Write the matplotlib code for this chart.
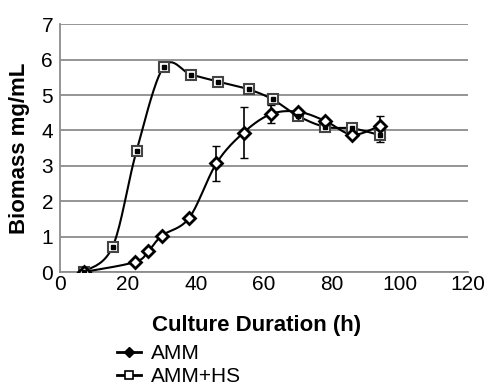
import numpy as np
import matplotlib
matplotlib.use("Agg")
import matplotlib.pyplot as plt
from matplotlib.lines import Line2D

plt.rcParams['font.family'] = ['Liberation Sans', 'DejaVu Sans']

# Data
amm_x = [7, 22, 26, 30, 38, 46, 54, 62, 70, 78, 86, 94]
amm_y = [0.0, 0.28, 0.59, 1.03, 1.53, 3.07, 3.94, 4.46, 4.53, 4.27, 3.88, 4.13]
amm_err = [0, 0, 0, 0, 0, 0.5, 0.71, 0.25, 0, 0, 0, 0.28]

hs_x = [7, 15.5, 22.5, 30.5, 38.5, 46.5, 55.5, 62.5, 70, 78, 86, 94]
hs_y = [0.0, 0.72, 3.42, 5.8, 5.58, 5.38, 5.16, 4.88, 4.41, 4.1, 4.06, 3.87]
hs_err = [0, 0, 0, 0, 0, 0, 0, 0, 0, 0, 0.08, 0.2]

x_ticks = [0, 20, 40, 60, 80, 100, 120]
y_ticks = [0, 1, 2, 3, 4, 5, 6, 7]


def smooth(xs, ys, sx=3.4, sy=35.4, n=20):
    """Excel-like smoothed line (cardinal Bezier) through the given points."""
    P = np.column_stack([np.asarray(xs) * sx, np.asarray(ys) * sy])
    out = []
    m = len(P)
    for i in range(m - 1):
        p0 = P[i - 1] if i > 0 else P[i]
        p1 = P[i]
        p2 = P[i + 1]
        p3 = P[i + 2] if i + 2 < m else P[i + 1]
        c1 = p1 + (p2 - p0) / 6.0
        c2 = p2 - (p3 - p1) / 6.0
        t = np.linspace(0, 1, n)[:, None]
        seg = ((1 - t) ** 3) * p1 + 3 * ((1 - t) ** 2) * t * c1 + 3 * (1 - t) * t ** 2 * c2 + t ** 3 * p2
        out.append(seg if i == 0 else seg[1:])
    Q = np.vstack(out)
    return Q[:, 0] / sx, Q[:, 1] / sy


fig = plt.figure(figsize=(4.95, 3.9), dpi=100)
ax = fig.add_axes([60 / 495, 1 - 272 / 390, (468 - 60) / 495, (272 - 24.3) / 390])

ax.set_xlim(0, 120)
ax.set_ylim(0, 7)
ax.set_xticks(x_ticks)
ax.set_yticks(y_ticks)
ax.yaxis.grid(True, color='#8c8c8c', linewidth=1.3)
ax.set_axisbelow(True)
for s in ['top', 'right']:
    ax.spines[s].set_visible(False)
for s in ['left', 'bottom']:
    ax.spines[s].set_color('#8c8c8c')
    ax.spines[s].set_linewidth(1.3)
ax.tick_params(axis='both', length=0, labelsize=15, pad=2)
ax.tick_params(axis='y', pad=5)

# lines
sx, sy = smooth(hs_x, hs_y)
ax.plot(sx, sy, color='black', lw=1.5, zorder=3)
ax.errorbar(hs_x, hs_y, yerr=hs_err, fmt='none', ecolor='black', elinewidth=1.2, capsize=3, zorder=3)
ax.plot(hs_x, hs_y, ls='none', marker='s', ms=6.5, mfc='white', mec='#444444', mew=1.5, zorder=4)
ax.plot(hs_x, hs_y, ls='none', marker='s', ms=2.5, mfc='black', mec='black', zorder=5)

ax_x, ax_y = smooth(amm_x, amm_y)
ax.plot(ax_x, ax_y, color='black', lw=1.5, zorder=3)
ax.errorbar(amm_x, amm_y, yerr=amm_err, fmt='none', ecolor='black', elinewidth=1.2, capsize=3, zorder=3)
ax.plot(amm_x, amm_y, ls='none', marker='D', ms=6, mfc='white', mec='black', mew=2.0, zorder=4)

ax.set_ylabel('Biomass mg/mL', fontsize=16, fontweight='bold', labelpad=8)
ax.set_xlabel('Culture Duration (h)', fontsize=16, fontweight='bold')
ax.xaxis.set_label_coords((257 - 60) / (468 - 60), -(325 - 272) / (272 - 24.3))
ax.xaxis.label.set_va('center')

handles = [
    Line2D([], [], color='black', lw=2, marker='D', ms=5, mfc='black', mec='black'),
    Line2D([], [], color='black', lw=2, marker='s', ms=6, mfc='white', mec='black', mew=1.2),
]
fig.legend(handles, ['AMM', 'AMM+HS'], loc='upper left',
           bbox_to_anchor=(117 / 495, 1 - 344 / 390), frameon=False,
           fontsize=15, handlelength=1.15, handletextpad=0.5,
           labelspacing=0.2, borderpad=0, borderaxespad=0)

fig.savefig('out.png', dpi=100)
